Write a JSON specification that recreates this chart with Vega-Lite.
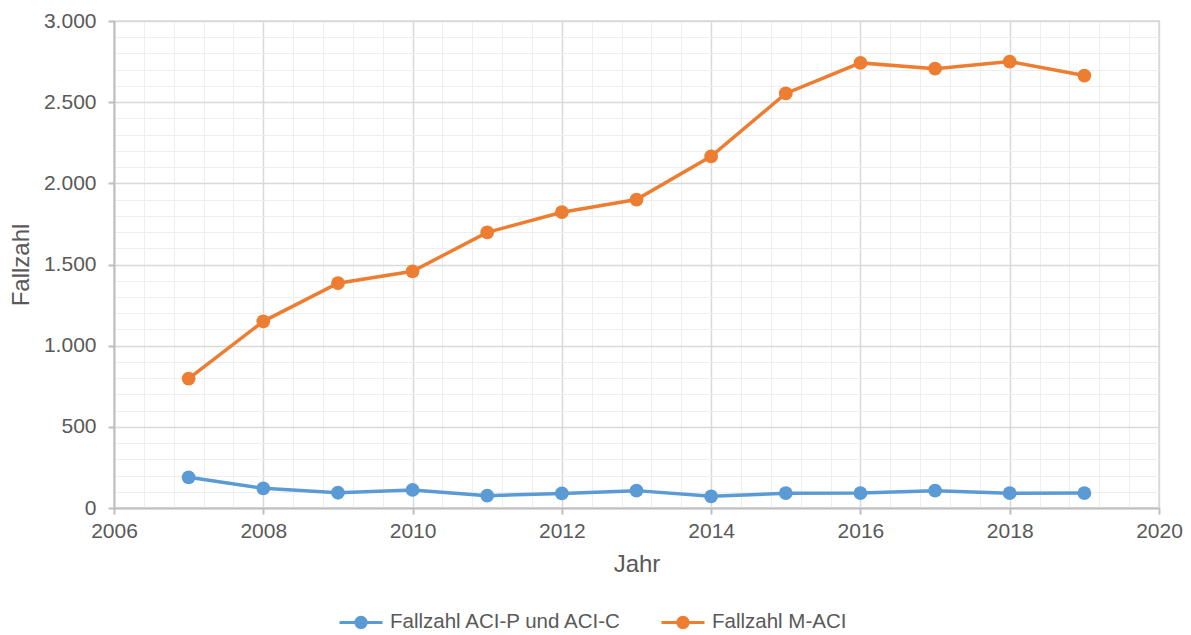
{
  "$schema": "https://vega.github.io/schema/vega-lite/v6.json",
  "width": 1045,
  "height": 487,
  "autosize": "none",
  "padding": {"left": 114, "top": 21, "right": 32, "bottom": 127},
  "background": "white",
  "data": {
    "values": [
      {"Jahr": 2007, "Serie": "Fallzahl ACI-P und ACI-C", "Fallzahl": 189},
      {"Jahr": 2008, "Serie": "Fallzahl ACI-P und ACI-C", "Fallzahl": 121},
      {"Jahr": 2009, "Serie": "Fallzahl ACI-P und ACI-C", "Fallzahl": 94},
      {"Jahr": 2010, "Serie": "Fallzahl ACI-P und ACI-C", "Fallzahl": 111},
      {"Jahr": 2011, "Serie": "Fallzahl ACI-P und ACI-C", "Fallzahl": 76},
      {"Jahr": 2012, "Serie": "Fallzahl ACI-P und ACI-C", "Fallzahl": 90},
      {"Jahr": 2013, "Serie": "Fallzahl ACI-P und ACI-C", "Fallzahl": 107},
      {"Jahr": 2014, "Serie": "Fallzahl ACI-P und ACI-C", "Fallzahl": 72},
      {"Jahr": 2015, "Serie": "Fallzahl ACI-P und ACI-C", "Fallzahl": 91},
      {"Jahr": 2016, "Serie": "Fallzahl ACI-P und ACI-C", "Fallzahl": 92},
      {"Jahr": 2017, "Serie": "Fallzahl ACI-P und ACI-C", "Fallzahl": 107},
      {"Jahr": 2018, "Serie": "Fallzahl ACI-P und ACI-C", "Fallzahl": 91},
      {"Jahr": 2019, "Serie": "Fallzahl ACI-P und ACI-C", "Fallzahl": 92},
      {"Jahr": 2007, "Serie": "Fallzahl M-ACI", "Fallzahl": 797},
      {"Jahr": 2008, "Serie": "Fallzahl M-ACI", "Fallzahl": 1150},
      {"Jahr": 2009, "Serie": "Fallzahl M-ACI", "Fallzahl": 1385},
      {"Jahr": 2010, "Serie": "Fallzahl M-ACI", "Fallzahl": 1458},
      {"Jahr": 2011, "Serie": "Fallzahl M-ACI", "Fallzahl": 1698},
      {"Jahr": 2012, "Serie": "Fallzahl M-ACI", "Fallzahl": 1822},
      {"Jahr": 2013, "Serie": "Fallzahl M-ACI", "Fallzahl": 1900},
      {"Jahr": 2014, "Serie": "Fallzahl M-ACI", "Fallzahl": 2166},
      {"Jahr": 2015, "Serie": "Fallzahl M-ACI", "Fallzahl": 2554},
      {"Jahr": 2016, "Serie": "Fallzahl M-ACI", "Fallzahl": 2742},
      {"Jahr": 2017, "Serie": "Fallzahl M-ACI", "Fallzahl": 2706},
      {"Jahr": 2018, "Serie": "Fallzahl M-ACI", "Fallzahl": 2750},
      {"Jahr": 2019, "Serie": "Fallzahl M-ACI", "Fallzahl": 2664}
    ]
  },
  "resolve": {"axis": {"x": "independent", "y": "independent"}},
  "layer": [
    {
      "mark": {"type": "line", "strokeOpacity": 0},
      "encoding": {
        "x": {"field": "Jahr", "type": "quantitative", "scale": {"domain": [2006, 2020], "nice": false, "zero": false},
          "axis": {"orient": "top", "grid": true, "values": [2006.4, 2006.8, 2007.2, 2007.6, 2008.4, 2008.8, 2009.2, 2009.6, 2010.4, 2010.8, 2011.2, 2011.6, 2012.4, 2012.8, 2013.2, 2013.6, 2014.4, 2014.8, 2015.2, 2015.6, 2016.4, 2016.8, 2017.2, 2017.6, 2018.4, 2018.8, 2019.2, 2019.6], "gridColor": "#eeeeee", "gridWidth": 1, "labels": false, "ticks": false, "domain": false, "title": null}},
        "y": {"field": "Fallzahl", "type": "quantitative", "scale": {"domain": [0, 3000], "nice": false},
          "axis": {"orient": "right", "grid": true, "values": [100, 200, 300, 400, 600, 700, 800, 900, 1100, 1200, 1300, 1400, 1600, 1700, 1800, 1900, 2100, 2200, 2300, 2400, 2600, 2700, 2800, 2900], "gridColor": "#eeeeee", "gridWidth": 1, "labels": false, "ticks": false, "domain": false, "title": null}},
        "detail": {"field": "Serie"}
      }
    },
    {
      "mark": {"type": "line", "strokeWidth": 3.5},
      "encoding": {
        "x": {"field": "Jahr", "type": "quantitative", "scale": {"domain": [2006, 2020], "nice": false, "zero": false},
          "axis": {"values": [2006, 2008, 2010, 2012, 2014, 2016, 2018, 2020], "format": "d", "title": "Jahr", "grid": true, "gridColor": "#d9d9d9", "gridWidth": 1.5, "domainColor": "#bfbfbf", "domainWidth": 2, "tickColor": "#bfbfbf", "tickWidth": 2, "tickSize": 6, "labelPadding": 6, "titlePadding": 11, "labelFontSize": 21, "titleFontSize": 24, "labelColor": "#595959", "titleColor": "#595959", "labelFont": "Liberation Sans", "titleFont": "Liberation Sans", "titleFontWeight": "normal", "labelFlush": false}},
        "y": {"field": "Fallzahl", "type": "quantitative", "scale": {"domain": [0, 3000], "nice": false},
          "axis": {"values": [0, 500, 1000, 1500, 2000, 2500, 3000], "labelExpr": "replace(format(datum.value, ',d'), ',', '.')", "title": "Fallzahl", "grid": true, "gridColor": "#d9d9d9", "gridWidth": 1.5, "domainColor": "#bfbfbf", "domainWidth": 2, "tickColor": "#bfbfbf", "tickWidth": 2, "tickSize": 6, "labelPadding": 12, "titlePadding": 10, "labelFontSize": 21, "titleFontSize": 24, "labelColor": "#595959", "titleColor": "#595959", "labelFont": "Liberation Sans", "titleFont": "Liberation Sans", "titleFontWeight": "normal", "labelFlush": false}},
        "color": {"field": "Serie", "type": "nominal",
          "scale": {"domain": ["Fallzahl ACI-P und ACI-C", "Fallzahl M-ACI"], "range": ["#5B9BD5", "#ED7D31"]},
          "legend": {"orient": "none", "legendX": 224, "legendY": 578, "direction": "horizontal", "title": null,
            "symbolType": "M -1 0 L 1 0 M 0.24 0 A 0.24 0.24 0 1 1 -0.24 0 A 0.24 0.24 0 1 1 0.24 0",
            "symbolSize": 1849, "symbolStrokeWidth": 3, "labelFontSize": 20.5, "labelFont": "Liberation Sans", "labelColor": "#595959", "labelLimit": 500, "columnPadding": 32, "labelOffset": 6}}
      }
    },
    {
      "mark": {"type": "point", "filled": true, "size": 190, "opacity": 1},
      "encoding": {
        "x": {"field": "Jahr", "type": "quantitative", "scale": {"domain": [2006, 2020], "nice": false, "zero": false}, "axis": null},
        "y": {"field": "Fallzahl", "type": "quantitative", "scale": {"domain": [0, 3000], "nice": false}, "axis": null},
        "color": {"field": "Serie", "type": "nominal"}
      }
    }
  ],
  "config": {
    "view": {"stroke": "#d9d9d9", "strokeWidth": 1.5}
  }
}
